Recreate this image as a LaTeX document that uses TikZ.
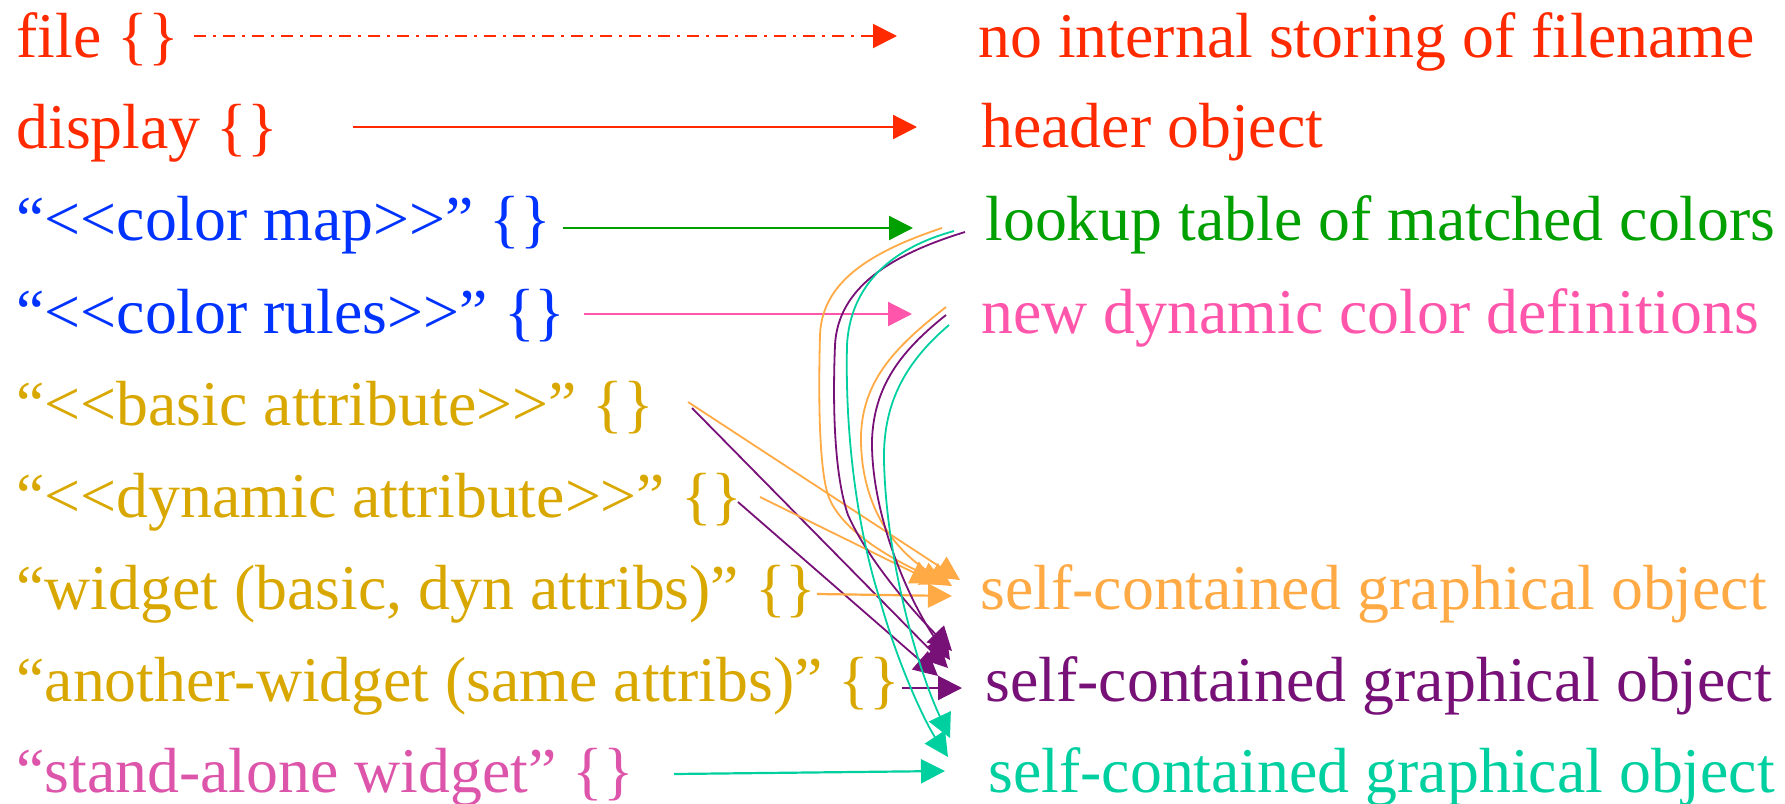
\documentclass[tikz,border=0pt]{standalone}
\usepackage{fontspec}
\setmainfont{Liberation Serif}
\usetikzlibrary{arrows.meta}
\definecolor{cred}{HTML}{FF2A00}
\definecolor{cblue}{HTML}{0033FF}
\definecolor{cgold}{HTML}{D9A800}
\definecolor{cmag}{HTML}{DD55AA}
\definecolor{cgreen}{HTML}{00A000}
\definecolor{cpink}{HTML}{FF55AA}
\definecolor{corange}{HTML}{FFAA44}
\definecolor{cpurple}{HTML}{771177}
\definecolor{cteal}{HTML}{00D0A0}
\newcommand{\myll}{<\kern0pt<}
\newcommand{\mygg}{>\kern0pt>}
\begin{document}
\begin{tikzpicture}[x=0.5pt,y=-0.5pt,
  txt/.style={anchor=base west, inner sep=0pt, font=\fontsize{31.9}{36}\selectfont},
  arr/.style={-{Triangle[length=12pt,width=12pt]}, line width=1.1pt},
  crv/.style={-{Triangle[length=12pt,width=12pt]}, line width=0.9pt},
  dashdot/.style={dash pattern=on 6pt off 3.5pt on 1.5pt off 3.5pt, line width=1pt}]
\useasboundingbox (0,0) rectangle (1785,804);

% left column
\node[txt, text=cred]    (lfile)    at (16,57)  {file \{\}};
\node[txt, text=cred]    (ldisplay) at (16,148) {display \{\}};
\node[txt, text=cblue]   (lcmap)    at (16,240) {“\myll color map\mygg” \{\}};
\node[txt, text=cblue]   (lcrules)  at (16,333) {“\myll color rules\mygg” \{\}};
\node[txt, text=cgold]   (lbasic)   at (16,425) {“\myll basic attribute\mygg” \{\}};
\node[txt, text=cgold]   (ldyn)     at (16,517) {“\myll dynamic attribute\mygg” \{\}};
\node[txt, text=cgold]   (lwidget)  at (16,609) {“widget (basic, dyn attribs)” \{\}};
\node[txt, text=cgold]   (lanother) at (16,701) {“another-widget (same attribs)” \{\}};
\node[txt, text=cmag]    (lstand)   at (16,792) {“stand-alone widget” \{\}};

% right column
\node[txt, text=cred]    (rfile)   at (978,57)  {no internal storing of filename};
\node[txt, text=cred]    (rheader) at (981,147) {header object};
\node[txt, text=cgreen]  (rlookup) at (985,240) {lookup table of matched colors};
\node[txt, text=cpink]   (rnewdyn) at (981,333) {new dynamic color definitions};
\node[txt, text=corange] (rself1)  at (980,609) {self-contained graphical object};
\node[txt, text=cpurple] (rself2)  at (985,701) {self-contained graphical object};
\node[txt, text=cteal]   (rself3)  at (988,792) {self-contained graphical object};

% connector end points
\coordinate (s1) at (194,36);  \coordinate (e1) at (897,36);
\coordinate (s2) at (353,127); \coordinate (e2) at (917,127);
\coordinate (s3) at (563,228); \coordinate (e3) at (913,228);
\coordinate (s4) at (584,314); \coordinate (e4) at (912,314);
\coordinate (sb1) at (688,402); \coordinate (sb2) at (692,408);
\coordinate (sd1) at (760,497); \coordinate (sd2) at (738,502);
\coordinate (sw) at (817,594);  \coordinate (sa) at (902,688); \coordinate (ss) at (674,774);
\coordinate (cO1) at (942,228); \coordinate (cT1) at (954,231); \coordinate (cP1) at (965,232);
\coordinate (cO2) at (946,307); \coordinate (cP2) at (946,315); \coordinate (cT2) at (949,325);

% horizontal arrows
\draw[arr, dashdot, cred] (s1) -- (e1);
\draw[arr, cred] (s2) -- (e2);
\draw[arr, cgreen] (s3) -- (e3);
\draw[arr, cpink] (s4) -- (e4);

% straight diagonal arrows
\draw[crv, corange] (sb1) -- (960,580);
\draw[crv, cpurple] (sb2) -- (948,668);
\draw[crv, corange] (sd1) -- (935,583);
\draw[crv, cpurple] (sd2) -- (938,676);
\draw[arr, corange] (sw) -- (952,596);
\draw[arr, cpurple] (sa) -- (962,688);
\draw[arr, cteal] (ss) -- (945,771);

% curves from lookup table
\draw[crv, corange] (cO1) .. controls (870,252) and (822,282) .. (820,335)
   .. controls (818,410) and (820,470) .. (828,495)
   .. controls (840,530) and (890,558) .. (945,584);
\draw[crv, cpurple] (cP1) .. controls (890,255) and (838,288) .. (835,345)
   .. controls (832,420) and (836,480) .. (848,515)
   .. controls (868,560) and (912,610) .. (952,651);
\draw[crv, cteal] (cT1) .. controls (885,250) and (850,290) .. (847,345)
   .. controls (845,430) and (856,525) .. (880,600)
   .. controls (898,665) and (925,722) .. (948,757);

% curves from new dynamic colour definitions
\draw[crv, corange] (cO2) .. controls (898,345) and (863,378) .. (861,435)
   .. controls (860,495) and (885,545) .. (952,586);
\draw[crv, cpurple] (cP2) .. controls (902,350) and (874,385) .. (872,440)
   .. controls (871,510) and (905,595) .. (950,660);
\draw[crv, cteal] (cT2) .. controls (908,360) and (883,400) .. (884,460)
   .. controls (886,560) and (918,670) .. (950,738);
\end{tikzpicture}
\end{document}
